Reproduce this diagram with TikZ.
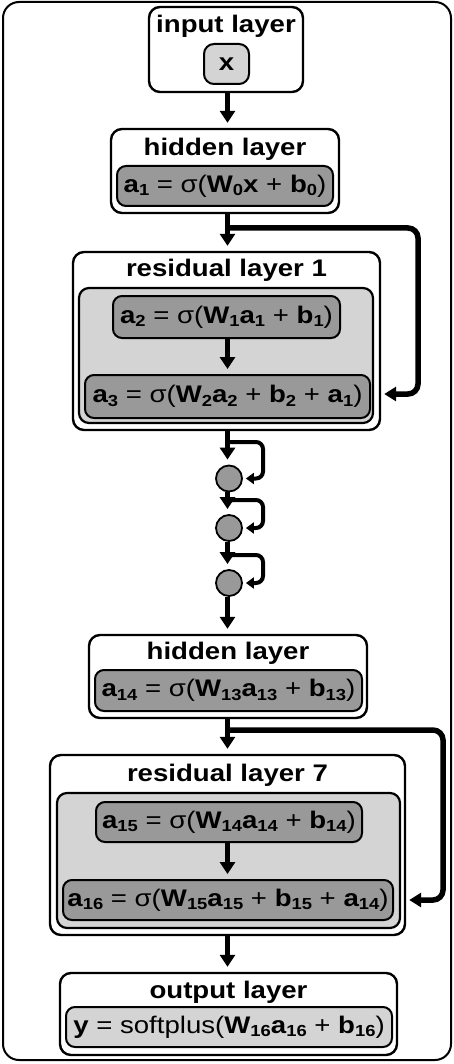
\documentclass[tikz,border=0pt]{standalone}
\usepackage{fontspec}
\setmainfont{Liberation Sans}[FakeStretch=1.15]
\usetikzlibrary{arrows.meta}
\definecolor{lightg}{HTML}{D4D4D4}
\definecolor{darkg}{HTML}{999999}
\newcommand{\sbs}[1]{\raisebox{-3.6pt}{\fontsize{16}{16}\selectfont #1}}
\tikzset{
  frame/.style={draw, line width=2pt, rounded corners=16pt},
  layer/.style={draw, line width=2.4pt, rounded corners=11pt, fill=white, inner sep=0pt},
  grp/.style={draw, line width=2.2pt, rounded corners=10pt, fill=lightg, inner sep=0pt},
  eqbox/.style={draw, line width=2pt, rounded corners=9pt, fill=darkg, inner sep=0pt, font=\fontsize{24}{24}\selectfont},
  leqbox/.style={eqbox, fill=lightg},
  lbl/.style={font=\fontsize{24}{24}\selectfont\bfseries, inner sep=0pt},
  arr/.style={line width=5.5pt, shorten >=5pt, -{Triangle[length=12pt,width=15pt]}},
  rloop/.style={line width=5.5pt, rounded corners=10pt, shorten >=3pt, -{Triangle[length=12pt,width=14pt]}},
  sloop/.style={line width=4pt, rounded corners=7pt, shorten >=3pt, -{Triangle[length=8pt,width=11pt]}},
  dot/.style={circle, draw, line width=1.8pt, fill=darkg, minimum size=26pt, inner sep=0pt},
}
\begin{document}
\begin{tikzpicture}[x=1pt,y=-1pt]
\useasboundingbox (0,0) rectangle (454,1064);
\draw[frame] (3,2) rectangle (451,1060);
\coordinate (ax) at (227.5,0);
% input layer
\node[layer, minimum width=154pt, minimum height=85pt] (inp) at (226,49.5) {};
\node[lbl] (linp) at (226,26) {input layer};
\node[leqbox, minimum width=45pt, minimum height=40pt, rounded corners=10pt] (x) at (226.5,64) {\textbf{x}};
% hidden layer 1
\node[layer, minimum width=228pt, minimum height=84pt] (h1) at (225,171) {};
\node[lbl] (lh1) at (225,149) {hidden layer};
\node[eqbox, minimum width=216pt, minimum height=40pt] (a1) at (225,186) {\textbf{a\sbs{1}} = σ(\textbf{W\sbs{0}x} + \textbf{b\sbs{0}})};
% residual layer 1
\node[layer, minimum width=307pt, minimum height=178pt] (r1) at (226.5,341) {};
\node[lbl] (lr1) at (226.5,270) {residual layer 1};
\node[grp, minimum width=294pt, minimum height=135pt] (g1) at (226,355.5) {};
\node[eqbox, minimum width=227pt, minimum height=42pt] (a2) at (226.5,317) {\textbf{a\sbs{2}} = σ(\textbf{W\sbs{1}a\sbs{1}} + \textbf{b\sbs{1}})};
\node[eqbox, minimum width=285pt, minimum height=43pt] (a3) at (227.5,396.5) {\textbf{a\sbs{3}} = σ(\textbf{W\sbs{2}a\sbs{2}} + \textbf{b\sbs{2}} + \textbf{a\sbs{1}})};
% dots
\node[dot] (c1) at (229,478.5) {};
\node[dot] (c2) at (229,528) {};
\node[dot] (c3) at (229,583) {};
% hidden layer 2
\node[layer, minimum width=278pt, minimum height=83pt] (h2) at (228,676.5) {};
\node[lbl] (lh2) at (228,653) {hidden layer};
\node[eqbox, minimum width=267pt, minimum height=41pt] (a14) at (228.5,690.5) {\textbf{a\sbs{14}} = σ(\textbf{W\sbs{13}a\sbs{13}} + \textbf{b\sbs{13}})};
% residual layer 7
\node[layer, minimum width=355pt, minimum height=180pt] (r7) at (227.5,845) {};
\node[lbl] (lr7) at (227.5,775) {residual layer 7};
\node[grp, minimum width=343pt, minimum height=135pt] (g7) at (228.5,860.5) {};
\node[eqbox, minimum width=266pt, minimum height=40pt] (a15) at (229,822) {\textbf{a\sbs{15}} = σ(\textbf{W\sbs{14}a\sbs{14}} + \textbf{b\sbs{14}})};
\node[eqbox, minimum width=330pt, minimum height=40pt] (a16) at (228,900) {\textbf{a\sbs{16}} = σ(\textbf{W\sbs{15}a\sbs{15}} + \textbf{b\sbs{15}} + \textbf{a\sbs{14}})};
% output layer
\node[layer, minimum width=337pt, minimum height=82pt] (out) at (228.5,1014) {};
\node[lbl] (lout) at (228.5,992) {output layer};
\node[leqbox, minimum width=326pt, minimum height=40pt] (y) at (229,1027) {\textbf{y} = softplus(\textbf{W\sbs{16}a\sbs{16}} + \textbf{b\sbs{16}})};
% main arrows
\draw[arr] (inp.south -| ax) -- (h1.north -| ax);
\draw[arr] (h1.south -| ax) -- (r1.north -| ax);
\draw[arr] (a2.south -| ax) -- (a3.north -| ax);
\draw[arr] (r1.south -| ax) -- (c1.north -| ax);
\draw[arr] (c1.south -| ax) -- (c2.north -| ax);
\draw[arr] (c2.south -| ax) -- (c3.north -| ax);
\draw[arr] (c3.south -| ax) -- (h2.north -| ax);
\draw[arr] (h2.south -| ax) -- (r7.north -| ax);
\draw[arr] (a15.south -| ax) -- (a16.north -| ax);
\draw[arr] (r7.south -| ax) -- (out.north -| ax);
% residual loops
\coordinate (s1) at (227.5,228);
\draw[rloop] (s1) -- (418,228) -- (418,394) -- (r1.east |- 0,394);
\coordinate (s7) at (227.5,730);
\draw[rloop] (s7) -- (443,730) -- (443,900) -- (r7.east |- 0,900);
% small loops
\coordinate (sc1) at (227.5,442);
\coordinate (sc2) at (227.5,500);
\coordinate (sc3) at (227.5,555);
\draw[sloop] (sc1) -- (263,442) -- (263,478.5) -- (c1.east);
\draw[sloop] (sc2) -- (263,500) -- (263,528) -- (c2.east);
\draw[sloop] (sc3) -- (263,555) -- (263,583) -- (c3.east);
\end{tikzpicture}
\end{document}
